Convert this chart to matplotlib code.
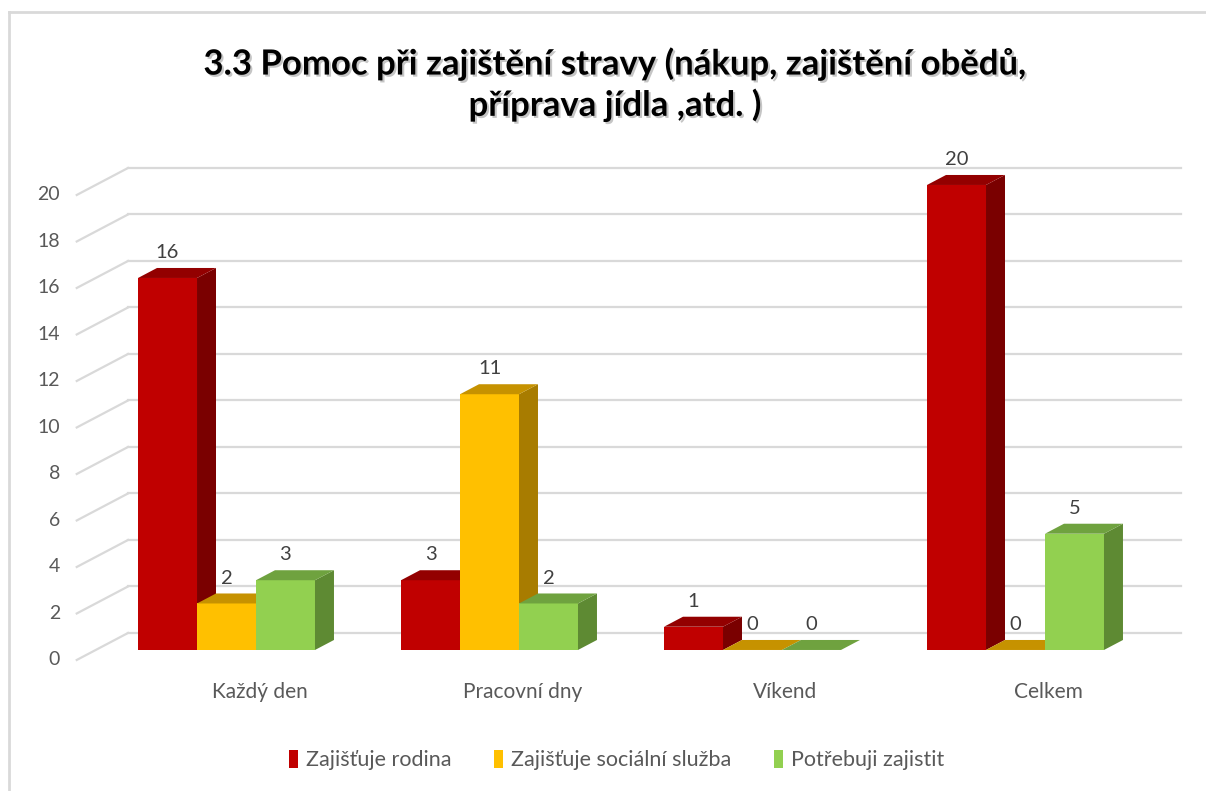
import matplotlib
matplotlib.use('Agg')
import matplotlib.pyplot as plt
from matplotlib.patches import Polygon, Patch
import matplotlib.patheffects as pe

plt.rcParams['font.family'] = ['Lato', 'DejaVu Sans']

# data
categories = ['Každý den', 'Pracovní dny', 'Víkend', 'Celkem']
series_names = ['Zajišťuje rodina', 'Zajišťuje sociální služba', 'Potřebuji zajistit']
rodina = [16, 3, 1, 20]
socialni = [2, 11, 0, 0]
zajistit = [3, 2, 0, 5]
yticks = list(range(0, 21, 2))
title = '3.3 Pomoc při zajištění stravy (nákup, zajištění obědů,\npříprava jídla ,atd. )'

values = [rodina, socialni, zajistit]
# front / top / side shades for the fake 3d look
front = ['#C00000', '#FFC000', '#92D050']
top = ['#930000', '#C69200', '#6FA23F']
side = ['#7A0000', '#A87C00', '#5E8A33']

W, H = 1206, 791
fig = plt.figure(figsize=(W / 100, H / 100), dpi=100)
# axes placed so that group centres / value scale land where the reference has them
ax = fig.add_axes([0.05697, 0.16359, 0.92682, 0.64665])
ax.set_xlim(-0.6, 3.65)
ax.set_ylim(-0.5, 21.5)
ax.axis('off')

bw = 0.2243          # bar width in group units
DX, DY = 0.0722, 0.43  # one bar depth, in data units
grid_c = '#D9D9D9'

# 3d-ish gridlines: slanted floor edge + back wall line
x_front = -0.3745 - 2.7 * DX
x_back = -0.3745
x_right = 3.6293
for v in yticks:
    ax.plot([x_front, x_back], [v - DY, v + 1.7 * DY], color=grid_c, lw=1.6, zorder=1, clip_on=False)
    ax.plot([x_back, x_right], [v + 1.7 * DY] * 2, color=grid_c, lw=1.6, zorder=1, clip_on=False)
    ax.annotate(str(v), (x_front, v - DY), xytext=(-12, 0), textcoords='offset points',
                ha='right', va='center', fontsize=14, color='#595959')

z = 2
for g in range(len(categories)):
    for j in range(3):
        v = values[j][g]
        x0 = g - 1.5 * bw + j * bw
        ax.bar(x0, v, width=bw, align='edge', color=front[j], lw=0, zorder=z)
        ax.add_patch(Polygon([(x0 + bw, 0), (x0 + bw + DX, DY), (x0 + bw + DX, v + DY), (x0 + bw, v)],
                             closed=True, fc=side[j], ec='none', zorder=z))
        ax.add_patch(Polygon([(x0, v), (x0 + bw, v), (x0 + bw + DX, v + DY), (x0 + DX, v + DY)],
                             closed=True, fc=top[j], ec='none', zorder=z))
        ax.annotate(str(v), (x0 + bw / 2, v + DY), xytext=(0, 5), textcoords='offset points',
                    ha='center', va='bottom', fontsize=14.5, color='#404040', zorder=10)
        z += 1
    ax.text(g + 0.125, -1.8, categories[g], ha='center', va='center', fontsize=15, color='#595959')

fig.text(0.51, 0.893, title, ha='center', va='center', fontsize=25, fontweight='bold',
         color='#000000', linespacing=1.3,
         path_effects=[pe.SimplePatchShadow(offset=(1.5, -1.5), shadow_rgbFace='#808080', alpha=0.45),
                       pe.Normal()])

handles = [Patch(facecolor=c, edgecolor='none') for c in front]
fig.legend(handles, series_names, loc='center', bbox_to_anchor=(616.5 / W, 1 - 760 / H), ncol=3,
           frameon=False, fontsize=15.5, labelcolor='#595959', handlelength=0.42, handleheight=0.95,
           handletextpad=0.35, columnspacing=2.0)

# chart border (only left and top edges are inside the crop)
fig.add_artist(plt.Line2D([9 / W, 9 / W], [0, 1 - 12 / H], color='#D9D9D9', lw=2))
fig.add_artist(plt.Line2D([9 / W, 1], [1 - 12 / H, 1 - 12 / H], color='#D9D9D9', lw=2))

fig.savefig('out.png', dpi=100, facecolor='white')
